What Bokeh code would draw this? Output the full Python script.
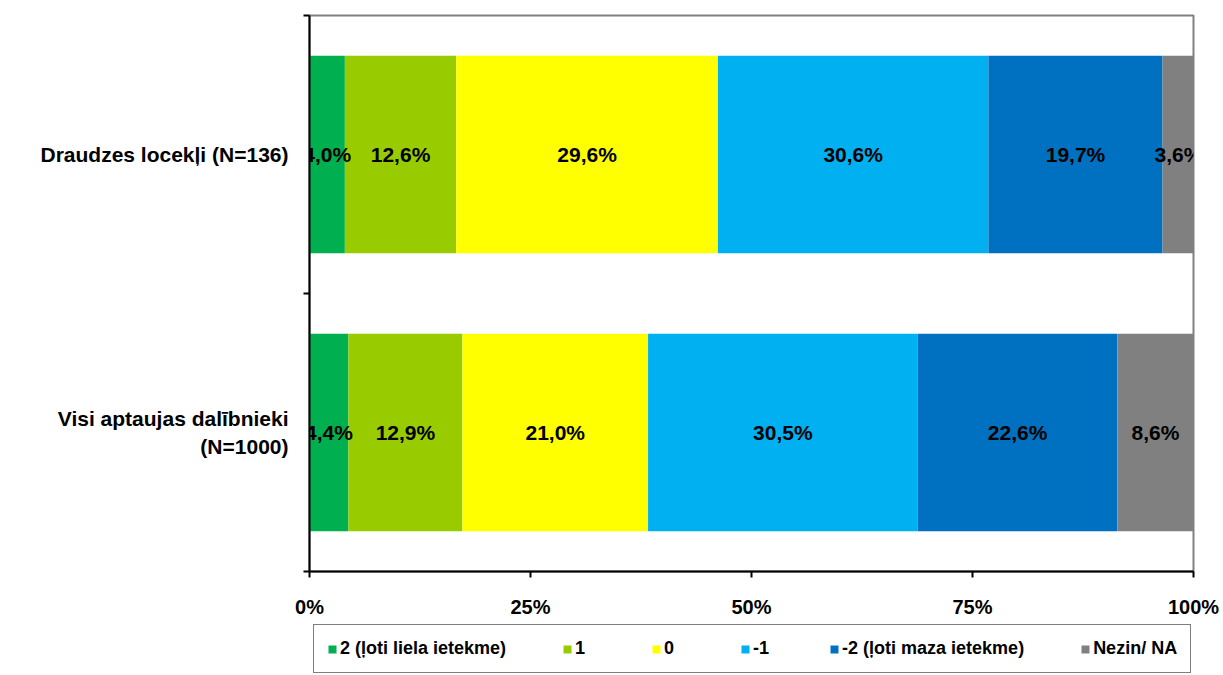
from bokeh.plotting import figure
from bokeh.layouts import column
from bokeh.models import Range1d, FixedTicker, LabelSet, ColumnDataSource, Legend, LegendItem
from bokeh.core.properties import value
from bokeh.embed import file_html
from bokeh.resources import INLINE

# ---- data ----
categories = ["Visi aptaujas dalībnieki\n(N=1000)", "Draudzes locekļi (N=136)"]
series = ["2 (ļoti liela ietekme)", "1", "0", "-1", "-2 (ļoti maza ietekme)", "Nezin/ NA"]
colors = ["#00B050", "#99CC00", "#FFFF00", "#00B0F0", "#0070C0", "#808080"]
values_visi = [4.4, 12.9, 21.0, 30.5, 22.6, 8.6]
values_draudzes = [4.0, 12.6, 29.6, 30.6, 19.7, 3.6]
x_ticks = [0, 25, 50, 75, 100]
x_tick_labels = ["0%", "25%", "50%", "75%", "100%"]

FONT = "Liberation Sans"
rows = [values_visi, values_draudzes]
ypos = [i + 0.5 for i in range(len(categories))]

p = figure(width=1223, height=620, output_backend="svg", toolbar_location=None,
           x_range=Range1d(0, 100), y_range=Range1d(0, len(categories)),
           min_border_left=309, min_border_right=30, min_border_top=15, min_border_bottom=49)

p.xgrid.visible = False
p.ygrid.visible = False
p.outline_line_color = "#808080"
p.outline_line_width = 2
p.background_fill_color = "white"

lab_x, lab_y, lab_t = [], [], []
for s_idx, (name, col) in enumerate(zip(series, colors)):
    lefts, rights = [], []
    for r_idx, row in enumerate(rows):
        left = sum(row[:s_idx])
        right = left + row[s_idx]
        lefts.append(left)
        rights.append(right)
        lab_x.append((left + right) / 2)
        lab_y.append(ypos[r_idx])
        lab_t.append(f"{row[s_idx]:.1f}".replace(".", ",") + "%")
    src = ColumnDataSource(dict(y=ypos, left=lefts, right=rights))
    p.hbar(y="y", left="left", right="right", height=0.71, source=src,
           fill_color=col, line_color=None)

labels = LabelSet(x="x", y="y", text="t", source=ColumnDataSource(dict(x=lab_x, y=lab_y, t=lab_t)),
                  text_font=value(FONT), text_font_size=value("21px"), text_font_style=value("bold"),
                  text_align=value("center"), text_baseline=value("middle"), text_color=value("black"))
p.add_layout(labels)

# x axis
p.xaxis.ticker = FixedTicker(ticks=x_ticks)
p.xaxis.major_label_overrides = {t: l for t, l in zip(x_ticks, x_tick_labels)}
p.xaxis.axis_line_color = "black"
p.xaxis.axis_line_width = 2
p.xaxis.major_tick_line_color = "black"
p.xaxis.major_tick_line_width = 2
p.xaxis.major_tick_in = 0
p.xaxis.major_tick_out = 6
p.xaxis.minor_tick_line_color = None
p.xaxis.major_label_standoff = 18
p.xaxis.major_label_text_font = FONT
p.xaxis.major_label_text_font_size = "20px"
p.xaxis.major_label_text_font_style = "bold"
p.xaxis.major_label_text_color = "black"

# y axis
p.yaxis.ticker = FixedTicker(ticks=ypos, minor_ticks=[float(i) for i in range(len(categories) + 1)])
p.yaxis.major_label_overrides = {y: c for y, c in zip(ypos, categories)}
p.yaxis.axis_line_color = "black"
p.yaxis.axis_line_width = 2
p.yaxis.major_tick_line_color = None
p.yaxis.major_tick_in = 0
p.yaxis.major_tick_out = 0
p.yaxis.minor_tick_line_color = "black"
p.yaxis.minor_tick_line_width = 2
p.yaxis.minor_tick_in = 0
p.yaxis.minor_tick_out = 6
p.yaxis.major_label_standoff = 15
p.yaxis.major_label_text_font = FONT
p.yaxis.major_label_text_font_size = "21px"
p.yaxis.major_label_text_font_style = "bold"
p.yaxis.major_label_text_color = "black"

# legend in its own strip below the chart (dummy swatch renderers kept out of view)
pl = figure(width=1223, height=55, output_backend="svg", toolbar_location=None,
            x_axis_type=None, y_axis_type=None,
            x_range=Range1d(0, 1), y_range=Range1d(0, 1),
            min_border_left=309, min_border_right=30, min_border_top=0, min_border_bottom=0)
pl.xgrid.visible = False
pl.ygrid.visible = False
pl.outline_line_color = None

legend_items = []
for name, col in zip(series, colors):
    r = pl.hbar(y=[-10], left=[0], right=[1], height=1, fill_color=col, line_color=None)
    legend_items.append(LegendItem(label=name, renderers=[r]))

legend = Legend(items=legend_items, orientation="horizontal", location=(4, 2),
                border_line_color="black", border_line_width=1.5,
                padding=13, spacing=56, margin=0, label_standoff=3,
                glyph_width=10, glyph_height=10,
                label_text_font=FONT, label_text_font_size="18px",
                label_text_font_style="bold", label_text_color="black")
pl.add_layout(legend, "center")

layout = column(p, pl, spacing=0)
open("out.html", "w").write(file_html(layout, INLINE))
